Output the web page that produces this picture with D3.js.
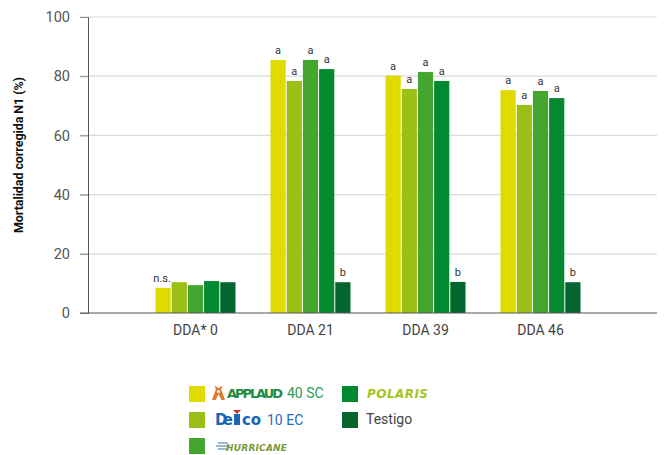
<!DOCTYPE html>
<html><head><meta charset="utf-8">
<script src="https://cdn.jsdelivr.net/npm/d3@7/dist/d3.min.js"></script>
<style>body{margin:0;background:#fff;}svg{display:block;font-family:Roboto,"Liberation Sans",Arial,sans-serif;}</style>
</head><body><div id="chart"></div>
<script>
const categories = ["DDA* 0", "DDA 21", "DDA 39", "DDA 46"];
const seriesNames = ["APPLAUD 40 SC", "Delco 10 EC", "HURRICANE", "POLARIS", "Testigo"];
const seriesColors = ["#dfdb00", "#9bbf14", "#44a62e", "#038a30", "#05652f"];
const applaud = [8.5, 85.5, 80.2, 75.3];
const delco = [10.4, 78.4, 75.7, 70.3];
const hurricane = [9.4, 85.5, 81.4, 75.0];
const polaris = [10.8, 82.4, 78.4, 72.6];
const testigo = [10.4, 10.4, 10.5, 10.4];
const seriesValues = [applaud, delco, hurricane, polaris, testigo];
const sigLabels = [
  ["n.s.", "", "", "", ""],
  ["a", "a", "a", "a", "b"],
  ["a", "a", "a", "a", "b"],
  ["a", "a", "a", "a", "b"]
];
const yTicks = [0, 20, 40, 60, 80, 100];

const W = 666, H = 455;
const svg = d3.select("#chart").append("svg").attr("width", W).attr("height", H);

const y = d3.scaleLinear().domain([0, 100]).range([313, 17]);
const x0 = d3.scaleBand().domain(categories).range([155, 581]).paddingInner(0.296).paddingOuter(0);
const x1 = d3.scaleBand().domain(seriesNames).range([0, x0.bandwidth()]);

// grid
svg.append("g").selectAll("line").data(yTicks.filter(d => d > 0)).join("line")
  .attr("x1", 80).attr("x2", 657).attr("y1", d => y(d)).attr("y2", d => y(d))
  .attr("stroke", "#dadada").attr("stroke-width", 1.2);

// y axis
const yAxis = svg.append("g").attr("transform", "translate(88,0)")
  .call(d3.axisLeft(y).tickValues(yTicks).tickSize(8).tickPadding(10));
yAxis.select(".domain").attr("stroke", "#555");
yAxis.selectAll(".tick line").attr("stroke", "#888");
yAxis.selectAll(".tick text").attr("font-size", 14.5).attr("fill", "#555").attr("font-family", "Roboto, sans-serif");

// bars
const groups = svg.append("g").selectAll("g").data(categories).join("g")
  .attr("transform", d => `translate(${x0(d)},0)`);
groups.each(function(cat, ci) {
  const g = d3.select(this);
  seriesNames.forEach((s, si) => {
    const v = seriesValues[si][ci];
    g.append("rect")
      .attr("x", x1(s) + 0.5).attr("width", x1.bandwidth() - 1)
      .attr("y", y(v)).attr("height", y(0) - y(v))
      .attr("fill", seriesColors[si]);
    const lab = sigLabels[ci][si];
    if (lab) {
      g.append("text").attr("x", x1(s) + x1.bandwidth() / 2 - (lab === "n.s." ? 1 : 0)).attr("y", y(v) - 6)
        .attr("text-anchor", "middle").attr("font-size", 11).attr("fill", "#333").text(lab);
    }
  });
});

// x axis baseline
svg.append("line").attr("x1", 80).attr("x2", 657).attr("y1", y(0)).attr("y2", y(0))
  .attr("stroke", "#555").attr("stroke-width", 1.2);
const xAxis = svg.append("g").attr("transform", `translate(0,${y(0)})`)
  .call(d3.axisBottom(x0).tickSize(0).tickPadding(12));
xAxis.select(".domain").remove();
xAxis.selectAll(".tick text").attr("font-size", 14).attr("fill", "#444").attr("font-family", "Roboto, sans-serif");

// y title
svg.append("text").attr("transform", "translate(23,155) rotate(-90)")
  .attr("text-anchor", "middle").attr("font-size", 12.5).attr("font-weight", "bold")
  .attr("fill", "#111").attr("textLength", 156).text("Mortalidad corregida N1 (%)");

// legend
const legPos = [[189, 386], [189, 412], [189, 438], [342, 386], [342, 412]];
const leg = svg.append("g");
seriesNames.forEach((s, i) => {
  leg.append("rect").attr("x", legPos[i][0]).attr("y", legPos[i][1]).attr("width", 16).attr("height", 16)
    .attr("fill", seriesColors[i]);
});
// APPLAUD logo
const ap = leg.append("g").attr("transform", "translate(212,385)");
ap.append("path").attr("d", "M0,15 L4,4 L2,1 L5,2 L6.5,3.5 L8,2 L11,1 L9,4 L13,15 L9.5,15 L6.5,9 L3.5,15 Z").attr("fill", "#e0782a");
ap.append("circle").attr("cx", 6.5).attr("cy", 6.5).attr("r", 1.6).attr("fill", "#fff");
leg.append("text").attr("x", 227).attr("y", 398).attr("font-size", 13).attr("font-weight", 900)
  .attr("font-family", "'DejaVu Sans', sans-serif").attr("fill", "#1f8c3f").attr("textLength", 56).text("APPLAUD");
leg.append("text").attr("x", 287).attr("y", 398).attr("font-size", 14).attr("fill", "#2e9a55").text("40 SC");
// Delco logo
leg.append("text").attr("x", 215).attr("y", 425).attr("font-size", 15).attr("font-weight", 900)
  .attr("font-family", "'DejaVu Sans', sans-serif").attr("fill", "#1a66b4").attr("textLength", 18).text("De");
leg.append("rect").attr("x", 234).attr("y", 414).attr("width", 6).attr("height", 11).attr("fill", "#1a66b4");
leg.append("path").attr("d", "M233,410 L241,410 L237,414 Z").attr("fill", "#d42c2c");
leg.append("text").attr("x", 242).attr("y", 425).attr("font-size", 15).attr("font-weight", 900)
  .attr("font-family", "'DejaVu Sans', sans-serif").attr("fill", "#1a66b4").attr("textLength", 19).text("co");
leg.append("text").attr("x", 267).attr("y", 425).attr("font-size", 14).attr("fill", "#2a6db5").text("10 EC");
// HURRICANE logo
const hu = leg.append("g");
hu.append("path").attr("d", "M218,443 L228,443 M216,446 L230,446 M218,449 L228,449").attr("stroke", "#7aa4c8").attr("stroke-width", 1.5);
leg.append("text").attr("x", 226).attr("y", 451).attr("font-size", 9).attr("font-weight", "bold").attr("font-style", "italic")
  .attr("font-family", "'DejaVu Sans', sans-serif").attr("fill", "#7a9a3a").attr("textLength", 61).text("HURRICANE");
// POLARIS logo
leg.append("text").attr("x", 367).attr("y", 398).attr("font-size", 12).attr("font-weight", 900).attr("font-style", "italic")
  .attr("font-family", "'DejaVu Sans', sans-serif").attr("fill", "#a4c41e").attr("textLength", 61).text("POLARIS");
leg.append("text").attr("x", 366).attr("y", 424).attr("font-size", 14).attr("fill", "#444").text("Testigo");
</script></body></html>
